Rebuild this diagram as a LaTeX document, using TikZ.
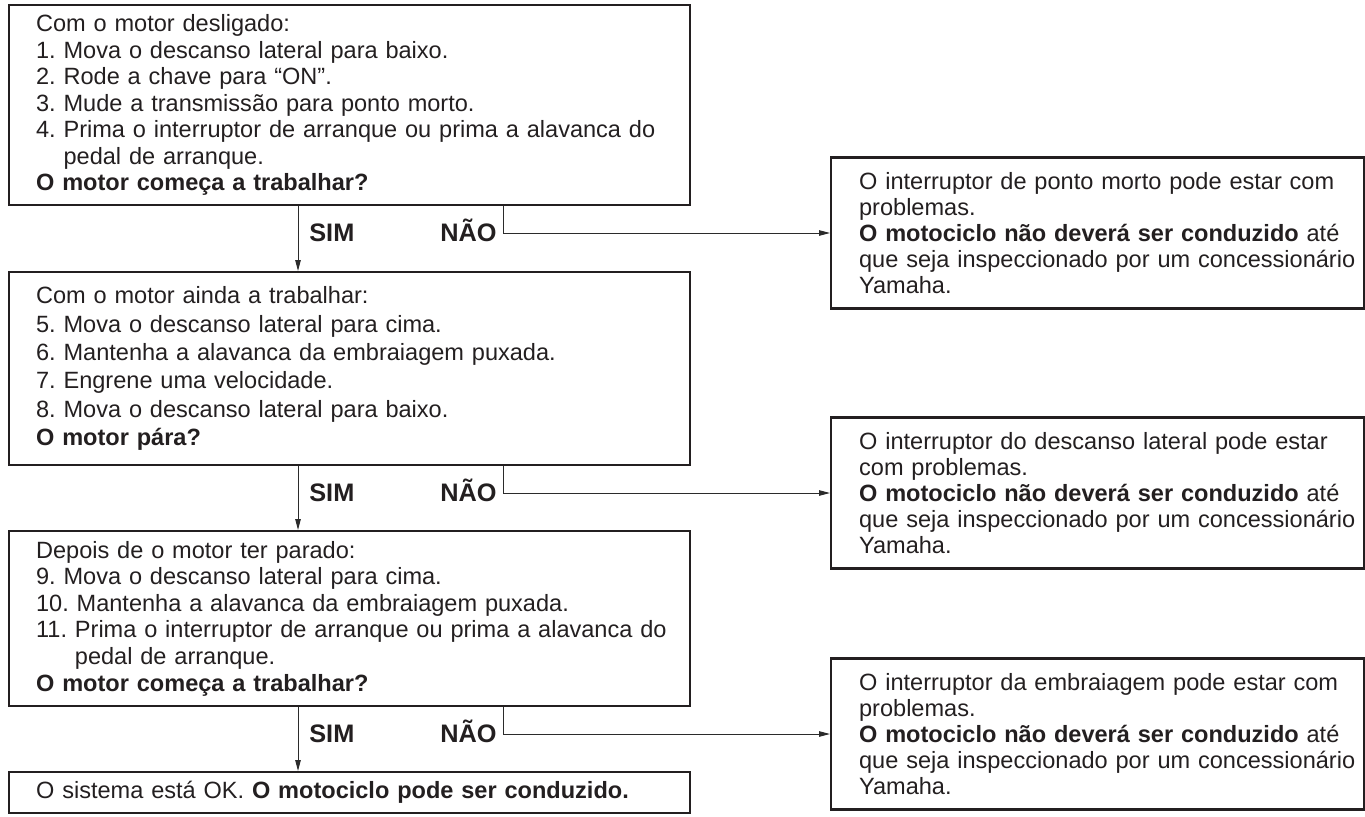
\documentclass[tikz,border=0pt]{standalone}
\usepackage{fontspec}
\setmainfont{Liberation Sans}
\usepackage{tikz}
\usetikzlibrary{arrows.meta}
\usetikzlibrary{positioning}
\definecolor{ink}{HTML}{231F20}
\definecolor{wire}{HTML}{2B2B2B}
\frenchspacing

\begin{document}
\begin{tikzpicture}[x=1mm, y=1mm,
    stepbox/.style={draw=ink, line width=0.45mm, anchor=north west, inner xsep=0pt, inner ysep=0pt,
                    text width=136.2mm, align=left, text=ink,
                    font=\fontsize{13.4}{15.1}\selectfont,
                    execute at begin node={\leftskip=5.4mm\relax}},
    answerbox/.style={draw=ink, line width=0.45mm, anchor=west, inner xsep=0pt, inner ysep=0pt,
                      text width=106.6mm, minimum height=30.2mm, align=left, text=ink,
                      font=\fontsize{13.4}{14.9}\selectfont,
                      execute at begin node={\leftskip=5.6mm\relax}},
    yes/.style={anchor=base west, inner xsep=2.2mm, inner ysep=0pt, text=ink,
                font=\fontsize{14.4}{16}\selectfont\bfseries},
    no/.style={anchor=base east, inner xsep=1.2mm, inner ysep=0pt, text=ink,
               font=\fontsize{14.4}{16}\selectfont\bfseries},
    flow/.style={draw=wire, line width=0.2mm, -{Triangle[length=2.2mm, width=1.1mm]}}]

    \useasboundingbox (0,0) rectangle (273,-163.2);

    % steps
    \node[stepbox, minimum height=40mm] (q1) at (1.6,-0.8) {
        Com o motor desligado:\\
        1. Mova o descanso lateral para baixo.\\
        2. Rode a chave para “ON”.\\
        3. Mude a transmissão para ponto morto.\\
        4. Prima o interruptor de arranque ou prima a alavanca do\\
        \hphantom{4. }pedal de arranque.\\
        \textbf{O motor começa a trabalhar?}
    };
    \node[stepbox, minimum height=38.6mm, font=\fontsize{13.4}{16.2}\selectfont] (q2) at (1.6,-54.2) {
        Com o motor ainda a trabalhar:\\
        5. Mova o descanso lateral para cima.\\
        6. Mantenha a alavanca da embraiagem puxada.\\
        7. Engrene uma velocidade.\\
        8. Mova o descanso lateral para baixo.\\
        \textbf{O motor pára?}
    };
    \node[stepbox, minimum height=35mm] (q3) at (1.6,-106.0) {
        Depois de o motor ter parado:\\
        9. Mova o descanso lateral para cima.\\
        10. Mantenha a alavanca da embraiagem puxada.\\
        11. Prima o interruptor de arranque ou prima a alavanca do\\
        \hphantom{11. }pedal de arranque.\\
        \textbf{O motor começa a trabalhar?}
    };
    \node[stepbox, minimum height=8.2mm] (q4) at (1.6,-154.2) {
        O sistema está OK. \textbf{O motociclo pode ser conduzido.}
    };

    % answers
    \node[answerbox] (r1) at (166,-46.6) {
        O interruptor de ponto morto pode estar com\\
        problemas.\\
        \textbf{O motociclo não deverá ser conduzido} até\\
        que seja inspeccionado por um concessionário\\
        Yamaha.
    };
    \node[answerbox] (r2) at (166,-98.6) {
        O interruptor do descanso lateral pode estar\\
        com problemas.\\
        \textbf{O motociclo não deverá ser conduzido} até\\
        que seja inspeccionado por um concessionário\\
        Yamaha.
    };
    \node[answerbox] (r3) at (166,-146.8) {
        O interruptor da embraiagem pode estar com\\
        problemas.\\
        \textbf{O motociclo não deverá ser conduzido} até\\
        que seja inspeccionado por um concessionário\\
        Yamaha.
    };

    % labels
    \node[yes] (sim1) at (59.6,-48.2) {SIM};
    \node[no] (nao1) at (100.6,-48.2) {NÃO};
    \node[yes] (sim2) at (59.6,-100.2) {SIM};
    \node[no] (nao2) at (100.6,-100.2) {NÃO};
    \node[yes] (sim3) at (59.6,-148.4) {SIM};
    \node[no] (nao3) at (100.6,-148.4) {NÃO};

    % connectors
    \draw[flow] (q1.south -| sim1.west) -- (q2.north -| sim1.west);
    \draw[flow] (q1.south -| nao1.east) |- (r1.west);
    \draw[flow] (q2.south -| sim2.west) -- (q3.north -| sim2.west);
    \draw[flow] (q2.south -| nao2.east) |- (r2.west);
    \draw[flow] (q3.south -| sim3.west) -- (q4.north -| sim3.west);
    \draw[flow] (q3.south -| nao3.east) |- (r3.west);

\end{tikzpicture}
\end{document}
